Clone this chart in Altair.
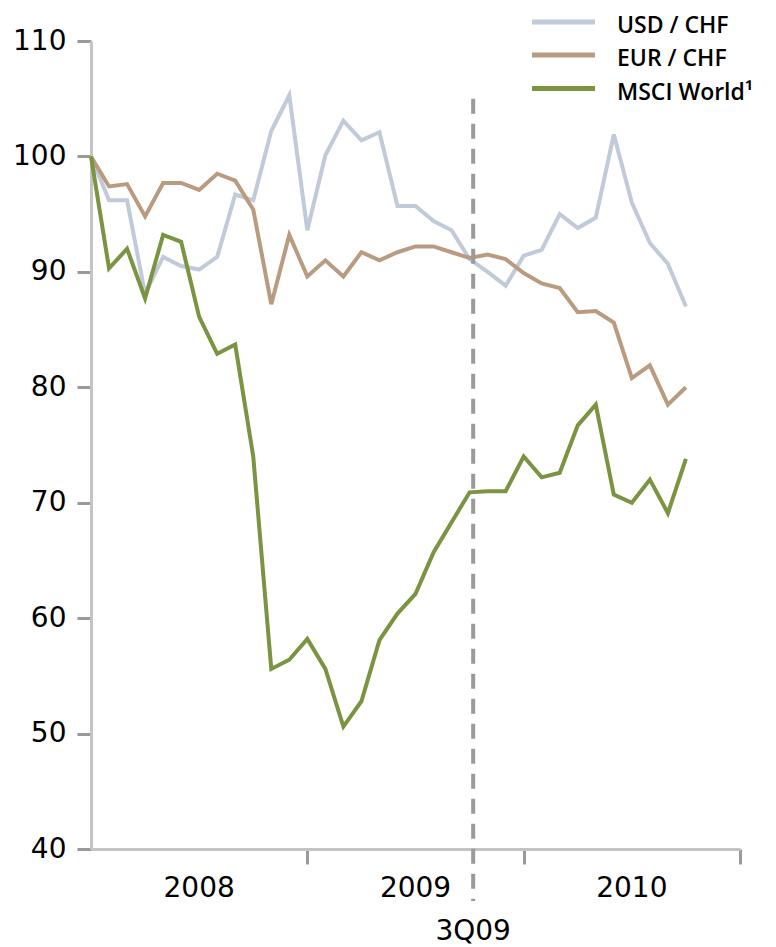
import altair as alt
import pandas as pd

months = list(range(34))
usd_chf = [100, 96.2, 96.2, 88.1, 91.3, 90.5, 90.2, 91.3, 96.7, 96.2, 102.2, 105.3,
           93.6, 100.1, 103.1, 101.4, 102.1, 95.7, 95.7, 94.4, 93.6, 91.1, 90.0, 88.8,
           91.4, 91.9, 95.0, 93.8, 94.7, 101.9, 96.0, 92.5, 90.7, 87.0]
eur_chf = [100, 97.4, 97.6, 94.8, 97.7, 97.7, 97.1, 98.5, 97.9, 95.4, 87.2, 93.2,
           89.6, 91.0, 89.6, 91.7, 91.0, 91.7, 92.2, 92.2, 91.7, 91.2, 91.5, 91.1,
           89.9, 89.0, 88.6, 86.5, 86.6, 85.6, 80.8, 81.9, 78.5, 80.0]
msci_world = [100, 90.3, 92.0, 87.7, 93.2, 92.6, 86.1, 82.9, 83.7, 74.0, 55.6, 56.4,
              58.2, 55.6, 50.6, 52.8, 58.1, 60.4, 62.1, 65.7, 68.3, 70.9, 71.0, 71.0,
              74.0, 72.2, 72.6, 76.7, 78.5, 70.7, 70.0, 72.0, 69.1, 73.8]
series_names = ["USD / CHF", "EUR / CHF", "MSCI World\u00b9"]
series_colors = ["#c0cad9", "#b99b80", "#7a9441"]
year_labels = ["2008", "2009", "2010"]
year_centers = [6, 18, 30]
year_ticks = [12, 24, 36]
y_ticks = [40, 50, 60, 70, 80, 90, 100, 110]
marker_pos = 21.2
marker_label = "3Q09"

rows = []
for name, vals in zip(series_names, [usd_chf, eur_chf, msci_world]):
    for m, v in zip(months, vals):
        rows.append({"month": m, "value": v, "series": name})
df = pd.DataFrame(rows)

W, H = 649, 808
FONT = "DejaVu Sans"
LEGEND_FONT = "Open Sans"

x_scale = alt.Scale(domain=[0, 36], nice=False, zero=False)
y_scale = alt.Scale(domain=[40, 110], nice=False, zero=False)

lines = alt.Chart(df).mark_line(strokeWidth=4, strokeJoin="miter").encode(
    x=alt.X("month:Q", scale=x_scale,
            axis=alt.Axis(values=year_ticks, labels=False, title=None, grid=False,
                          domainColor="#c4c4c4", domainWidth=3,
                          tickColor="#9a9a9a", tickWidth=3, tickSize=15)),
    y=alt.Y("value:Q", scale=y_scale,
            axis=alt.Axis(values=y_ticks, title=None, grid=False,
                          domainColor="#c4c4c4", domainWidth=3,
                          tickColor="#9a9a9a", tickWidth=3, tickSize=14,
                          labelFont=FONT, labelFontSize=28, labelColor="#000000",
                          labelPadding=11)),
    color=alt.Color("series:N",
                    scale=alt.Scale(domain=series_names, range=series_colors),
                    sort=series_names, legend=None),
    order=alt.Order("month:Q"),
)

# legend drawn as small layers (one row per series)
legend_layers = []
swatch_y = [-19.0, 14.0, 47.5]
for i, (name, col) in enumerate(zip(series_names, series_colors)):
    ldf = pd.DataFrame({"label": [name]})
    legend_layers.append(
        alt.Chart(ldf).mark_rule(strokeWidth=5, color=col).encode(
            x=alt.value(441), x2=alt.value(504), y=alt.value(swatch_y[i]))
    )
    legend_layers.append(
        alt.Chart(ldf).mark_text(font=LEGEND_FONT, fontSize=23, fontWeight=600, align="left",
                                 baseline="alphabetic", color="#000000").encode(
            x=alt.value(526), y=alt.value(swatch_y[i] + 11.0), text="label:N")
    )

rule_df = pd.DataFrame({"x": [marker_pos], "label": [marker_label]})
marker = alt.Chart(rule_df).mark_rule(strokeWidth=4, strokeDash=[15, 10], color="#9a9a9a").encode(
    x=alt.X("x:Q", scale=x_scale),
    y=alt.datum(105),
    y2=alt.value(H + 52),
)
marker_text = alt.Chart(rule_df).mark_text(font=FONT, fontSize=28, baseline="middle",
                                           align="center", color="#000000").encode(
    x=alt.X("x:Q", scale=x_scale),
    y=alt.value(H + 83),
    text="label:N",
)

years_df = pd.DataFrame({"x": year_centers, "label": year_labels})
years = alt.Chart(years_df).mark_text(font=FONT, fontSize=28, baseline="middle",
                                      align="center", color="#000000").encode(
    x=alt.X("x:Q", scale=x_scale),
    y=alt.value(H + 40),
    text="label:N",
)

chart = alt.layer(lines, marker, marker_text, years, *legend_layers).properties(
    width=W, height=H,
    autosize=alt.AutoSizeParams(type="none"),
    padding={"left": 83, "top": 33, "right": 28, "bottom": 98},
).configure_view(strokeWidth=0)

chart.save("out.html", embed_options={"renderer": "svg", "actions": False})
